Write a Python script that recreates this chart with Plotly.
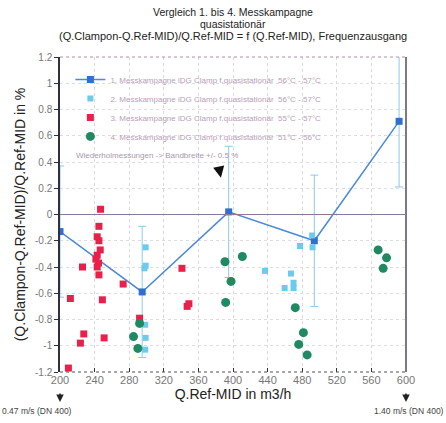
import plotly.graph_objects as go

# Series 1: repeat measurements (line with error bars)
s1_x = [200, 295, 395, 494, 592]
s1_y = [-0.13, -0.59, 0.02, -0.20, 0.71]
s1_err = [0.5, 0.5, 0.5, 0.5, 0.5]

# Series 2 (cyan squares)
s2_x = [299, 299, 297.7, 298.5, 299, 298.5, 477.5, 491.5, 492, 437, 467, 470, 470, 459.7]
s2_y = [-0.25, -0.39, -0.41, -0.84, -0.94, -1.03, -0.24, -0.16, -0.25, -0.43, -0.45, -0.52, -0.56, -0.56]

# Series 3 (red squares)
s3_x = [246.9, 245, 243, 245, 246.5, 243, 241.5, 244.5, 243, 226, 245, 273, 212, 249,
        292, 227.5, 223.6, 251, 209.7, 341, 347, 349]
s3_y = [0.04, -0.09, -0.17, -0.20, -0.27, -0.31, -0.34, -0.37, -0.40, -0.40, -0.46, -0.53,
        -0.64, -0.65, -0.79, -0.91, -0.98, -0.94, -1.17, -0.41, -0.70, -0.68]

# Series 4 (green circles)
s4_x = [292, 285, 290, 390.7, 410.8, 397.7, 391.5, 472, 481.4, 476, 485.7, 567.8, 577.5, 573.6]
s4_y = [-0.83, -0.93, -1.02, -0.36, -0.32, -0.51, -0.67, -0.71, -0.90, -0.99, -1.07, -0.27, -0.33, -0.41]

names = [
    "1. Messkampagne iDG Clamp f.quasistationär  56°C - 57°C",
    "2. Messkampagne iDG Clamp f.quasistationär  56°C - 57°C",
    "3. Messkampagne iDG Clamp f.quasistationär  55°C - 57°C",
    "4. Messkampagne iDG Clamp f.quasistationär  51°C - 56°C",
]

x_ticks = list(range(200, 601, 40))
y_ticks = [-1.2, -1, -0.8, -0.6, -0.4, -0.2, 0, 0.2, 0.4, 0.6, 0.8, 1, 1.2]
y_tick_text = ["-1.2", "-1", "-0.8", "-0.6", "-0.4", "-0.2", "0", "0.2", "0.4", "0.6", "0.8", "1", "1.2"]

title_lines = [
    "Vergleich 1. bis 4. Messkampagne",
    "quasistationär",
    "(Q.Clampon-Q.Ref-MID)/Q.Ref-MID = f (Q.Ref-MID), Frequenzausgang",
]

fig = go.Figure()
fig.add_trace(go.Scatter(
    x=s1_x, y=s1_y, mode="lines+markers", name=names[0],
    line=dict(color="#4a8ad8", width=1.5),
    marker=dict(symbol="square", size=7, color="#2f6fd0"),
    error_y=dict(type="data", array=s1_err, color="#8cc8f0", thickness=1, width=4),
))
fig.add_trace(go.Scatter(
    x=s2_x, y=s2_y, mode="markers", name=names[1],
    marker=dict(symbol="square", size=6, color="#6ccbec"),
))
fig.add_trace(go.Scatter(
    x=s3_x, y=s3_y, mode="markers", name=names[2],
    marker=dict(symbol="square", size=7, color="#e8204a"),
))
fig.add_trace(go.Scatter(
    x=s4_x, y=s4_y, mode="markers", name=names[3],
    marker=dict(symbol="circle", size=9, color="#1f8a62"),
))

# dotted frame (top / bottom) and solid right edge
fig.add_shape(type="line", xref="paper", yref="paper", x0=0, x1=1, y0=1, y1=1,
              line=dict(color="#b090a8", width=1, dash="dot"))
fig.add_shape(type="line", xref="paper", yref="paper", x0=0, x1=1, y0=0, y1=0,
              line=dict(color="#505060", width=1, dash="dot"))
fig.add_shape(type="line", xref="paper", yref="paper", x0=1, x1=1, y0=0, y1=1,
              line=dict(color="#504868", width=1.5))
# zero line
fig.add_shape(type="line", xref="paper", yref="y", x0=0, x1=1, y0=0, y1=0,
              line=dict(color="#8a7a98", width=1))

# title as three centred lines (plot area: top 57 px, height 315 px)
for txt, yc, sz in zip(title_lines, [12, 24, 36], [10.5, 10.5, 11]):
    fig.add_annotation(x=0.5, y=(372 - yc) / 315, xref="paper", yref="paper",
                       text=txt, showarrow=False, xanchor="center", yanchor="middle",
                       font=dict(size=sz, color="#222"))

fig.add_annotation(x=0.04, y=0.45, xref="paper", yref="y", xanchor="left",
                   text="Wiederholmessungen -> Bandbreite +/- 0.5 %", showarrow=False,
                   font=dict(size=8, color="#a898b0"))
fig.add_annotation(x=386, y=0.28, xref="x", yref="y", ax=-2, ay=-10,
                   text="", showarrow=True, arrowhead=2, arrowsize=0.9, arrowwidth=2.5,
                   arrowcolor="#111")

fig.add_annotation(x=0.0, y=-0.095, xref="paper", yref="paper", ax=0, ay=-10,
                   text="", showarrow=True, arrowhead=2, arrowsize=1, arrowwidth=1.5,
                   arrowcolor="#222")
fig.add_annotation(x=1.0, y=-0.095, xref="paper", yref="paper", ax=0, ay=-10,
                   text="", showarrow=True, arrowhead=2, arrowsize=1, arrowwidth=1.5,
                   arrowcolor="#222")
fig.add_annotation(x=-0.172, y=-0.124, xref="paper", yref="paper", xanchor="left",
                   yanchor="middle", text="0.47 m/s (DN 400)", showarrow=False,
                   font=dict(size=8.5, color="#444"))
fig.add_annotation(x=1.115, y=-0.124, xref="paper", yref="paper", xanchor="right",
                   yanchor="middle", text="1.40 m/s (DN 400)", showarrow=False,
                   font=dict(size=8.5, color="#444"))

fig.update_layout(
    width=446, height=423,
    margin=dict(l=60, r=40, t=57, b=51),
    paper_bgcolor="white", plot_bgcolor="white",
    font=dict(family="Liberation Sans, Arial, sans-serif", color="#333"),
    showlegend=True,
    legend=dict(x=0.03, y=0.975, xanchor="left", yanchor="top",
                bgcolor="rgba(0,0,0,0)", font=dict(size=8, color="#b8a0b8"),
                tracegroupgap=0),
    xaxis=dict(range=[200, 600], tickvals=x_ticks, ticks="inside", ticklen=4,
               tickcolor="#333", showline=False, showgrid=True,
               gridcolor="#d8d8e2", griddash="dot", zeroline=False,
               tickfont=dict(size=11, color="#777"),
               title=dict(text="Q.Ref-MID in m3/h", font=dict(size=14, color="#222"), standoff=4)),
    yaxis=dict(range=[-1.2, 1.2], tickvals=y_ticks, ticktext=y_tick_text, ticks="outside",
               ticklen=4, tickcolor="#333", showline=True, linecolor="#303040", linewidth=1.5,
               showgrid=True, gridcolor="#dcdce6", griddash="dot", zeroline=False,
               tickfont=dict(size=10, color="#777"),
               title=dict(text="(Q.Clampon-Q.Ref-MID)/Q.Ref-MID in %",
                          font=dict(size=14, color="#222"), standoff=6)),
)

fig.write_html("out.html")
